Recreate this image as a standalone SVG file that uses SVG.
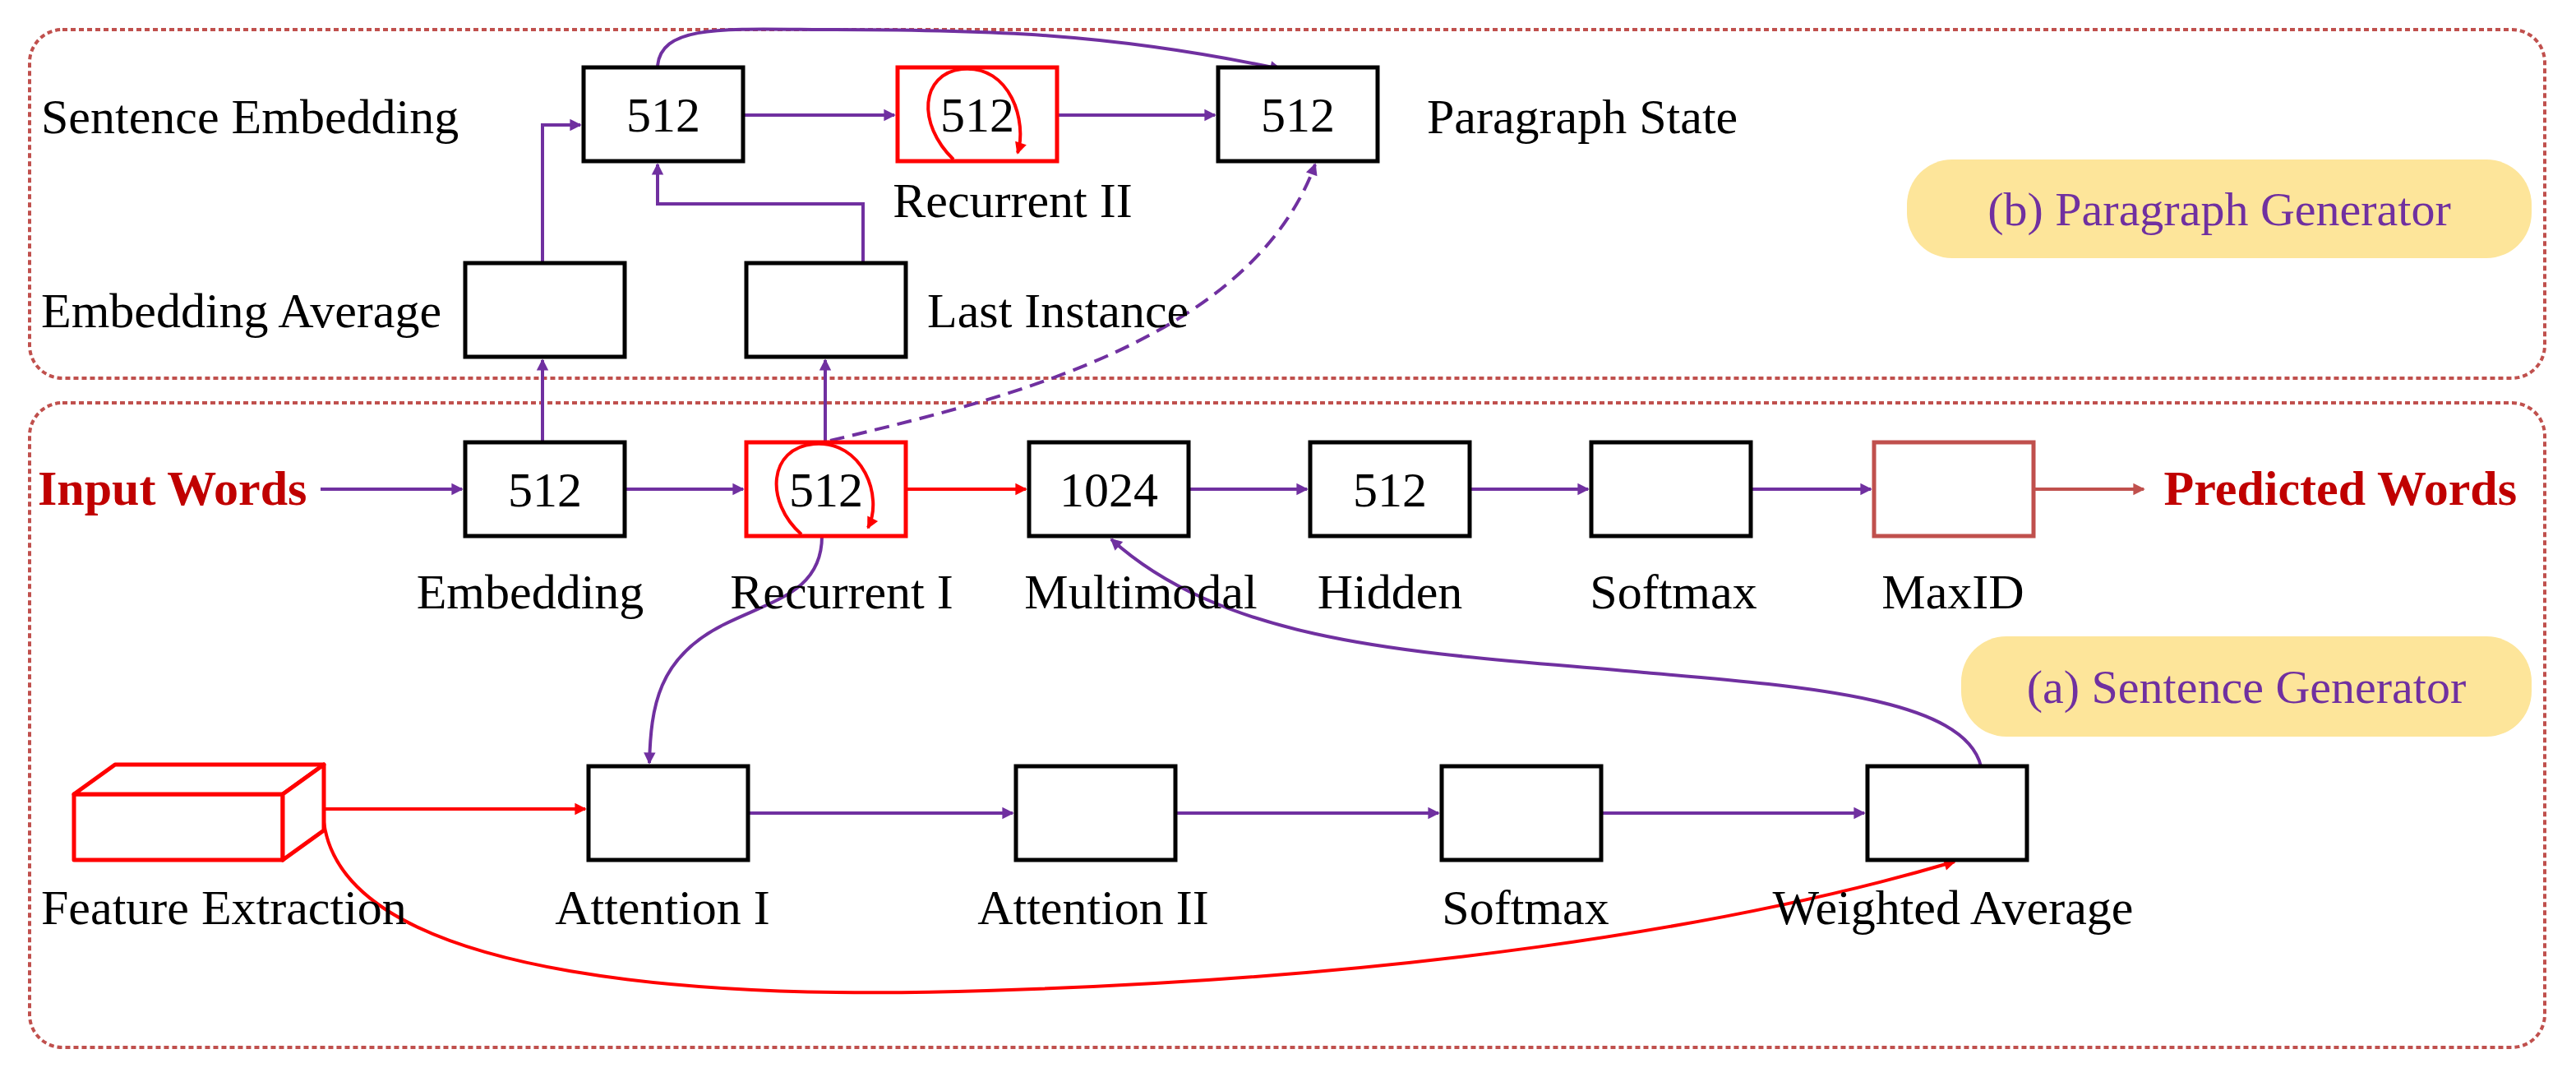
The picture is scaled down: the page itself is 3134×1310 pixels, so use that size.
<svg xmlns="http://www.w3.org/2000/svg" width="3134" height="1310" viewBox="0 0 3134 1310">
<style>
text{font-family:"Liberation Serif","Times New Roman",serif;font-size:60px;fill:#000}
.box{fill:#fff;stroke:#000;stroke-width:5}
.rbox{fill:#fff;stroke:#ff0000;stroke-width:5}
.c{fill:none;stroke:#7030a0;stroke-width:4}
.r{fill:none;stroke:#ff0000;stroke-width:4}
.panel{fill:none;stroke:#c0504d;stroke-width:4;stroke-dasharray:6 4}
.tag{fill:#fde59a}
.tagt{fill:#7030a0;font-size:58px}
.io{fill:#c00000;font-weight:bold}
</style>
<defs>
<marker id="ap" viewBox="0 0 10 10" refX="9" refY="5" markerWidth="6" markerHeight="6" orient="auto" markerUnits="userSpaceOnUse" style="overflow:visible"><path d="M0,0L10,5L0,10z" fill="#7030a0" transform="scale(2.4) translate(-5,-2.9)"/></marker>
<marker id="ar" viewBox="0 0 10 10" refX="9" refY="5" markerWidth="6" markerHeight="6" orient="auto" markerUnits="userSpaceOnUse" style="overflow:visible"><path d="M0,0L10,5L0,10z" fill="#ff0000" transform="scale(2.4) translate(-5,-2.9)"/></marker>
<marker id="ab" viewBox="0 0 10 10" refX="9" refY="5" markerWidth="6" markerHeight="6" orient="auto" markerUnits="userSpaceOnUse" style="overflow:visible"><path d="M0,0L10,5L0,10z" fill="#c0504d" transform="scale(2.4) translate(-5,-2.9)"/></marker>
</defs>
<rect class="panel" x="36" y="36" width="3060" height="424" rx="40"/>
<rect class="panel" x="36" y="490" width="3060" height="784" rx="40"/>
<g id="tagb"><rect class="tag" x="2320" y="194" width="760" height="120" rx="55"/><text class="tagt" x="2700" y="274" text-anchor="middle">(b) Paragraph Generator</text></g>
<g id="taga"><rect class="tag" x="2386" y="774" width="694" height="122" rx="55"/><text class="tagt" x="2733" y="855" text-anchor="middle">(a) Sentence Generator</text></g>

<g id="connectors">
<path class="c" d="M390,595H562" marker-end="url(#ap)"/>
<path class="c" d="M760,595H904" marker-end="url(#ap)"/>
<path class="r" d="M1102,595H1248" marker-end="url(#ar)"/>
<path class="c" d="M1446,595H1590" marker-end="url(#ap)"/>
<path class="c" d="M1788,595H1932" marker-end="url(#ap)"/>
<path class="c" d="M2130,595H2276" marker-end="url(#ap)"/>
<path fill="none" stroke="#c0504d" stroke-width="4" d="M2474,595H2608" marker-end="url(#ab)"/>
<path class="c" d="M660,538V438" marker-end="url(#ap)"/>
<path class="c" d="M660,320V152H706" marker-end="url(#ap)"/>
<path class="c" d="M1004,538V438" marker-end="url(#ap)"/>
<path class="c" d="M1050,320V248H800V200" marker-end="url(#ap)"/>
<path class="c" d="M904,140H1088" marker-end="url(#ap)"/>
<path class="c" d="M1286,140H1478" marker-end="url(#ap)"/>
<path class="c" d="M800,80C805,30 880,35 1000,36C1200,36 1350,40 1558,84" marker-end="url(#ap)"/>
<path class="c" stroke-dasharray="18 10" d="M1010,536C1200,490 1520,420 1600,200" marker-end="url(#ap)"/>
<path class="c" d="M1000,652C1000,720 940,730 880,760C800,800 792,860 790,928" marker-end="url(#ap)"/>
<path class="c" d="M2410,932C2390,850 2200,835 2000,818C1750,795 1500,790 1352,656" marker-end="url(#ap)"/>
<path class="r" d="M394,984H712" marker-end="url(#ar)"/>
<path class="c" d="M910,989H1232" marker-end="url(#ap)"/>
<path class="c" d="M1430,989H1750" marker-end="url(#ap)"/>
<path class="c" d="M1948,989H2268" marker-end="url(#ap)"/>
<path class="r" d="M394,1000C420,1200 900,1215 1200,1205C1700,1190 2100,1130 2378,1048" marker-end="url(#ar)"/>
</g>

<g id="se512"><rect class="box" x="710" y="82" width="194" height="114"/><text x="807" y="160" text-anchor="middle">512</text></g>
<g id="rec2"><rect class="rbox" x="1092" y="82" width="194" height="114"/><text x="1189" y="160" text-anchor="middle">512</text><path class="r" d="M1160,194C1115,150 1120,90 1170,84C1230,78 1250,150 1238,186" marker-end="url(#ar)"/></g>
<g id="ps512"><rect class="box" x="1482" y="82" width="194" height="114"/><text x="1579" y="160" text-anchor="middle">512</text></g>
<g id="embavg"><rect class="box" x="566" y="320" width="194" height="114"/></g>
<g id="lastinst"><rect class="box" x="908" y="320" width="194" height="114"/></g>
<g id="emb"><rect class="box" x="566" y="538" width="194" height="114"/><text x="663" y="616" text-anchor="middle">512</text></g>
<g id="rec1"><rect class="rbox" x="908" y="538" width="194" height="114"/><text x="1005" y="616" text-anchor="middle">512</text><path class="r" d="M975,650C930,610 935,545 990,540C1050,535 1075,605 1056,642" marker-end="url(#ar)"/></g>
<g id="mm"><rect class="box" x="1252" y="538" width="194" height="114"/><text x="1349" y="616" text-anchor="middle">1024</text></g>
<g id="hid"><rect class="box" x="1594" y="538" width="194" height="114"/><text x="1691" y="616" text-anchor="middle">512</text></g>
<g id="soft1"><rect class="box" x="1936" y="538" width="194" height="114"/></g>
<g id="maxid"><rect x="2280" y="538" width="194" height="114" fill="#fff" stroke="#c0504d" stroke-width="5"/></g>
<g id="att1"><rect class="box" x="716" y="932" width="194" height="114"/></g>
<g id="att2"><rect class="box" x="1236" y="932" width="194" height="114"/></g>
<g id="soft2"><rect class="box" x="1754" y="932" width="194" height="114"/></g>
<g id="wa"><rect class="box" x="2272" y="932" width="194" height="114"/></g>
<g id="feat" fill="#fff" stroke="#ff0000" stroke-width="5" stroke-linejoin="round"><rect x="90" y="966" width="254" height="80"/><path d="M90,966L140,930H394L344,966Z"/><path d="M344,966L394,930V1010L344,1046Z"/></g>

<g id="labels">
<text x="50" y="162">Sentence Embedding</text>
<text x="1736" y="162">Paragraph State</text>
<text x="1232" y="264" text-anchor="middle">Recurrent II</text>
<text x="50" y="398">Embedding Average</text>
<text x="1128" y="398">Last Instance</text>
<text class="io" x="46" y="614">Input Words</text>
<text class="io" x="3062" y="614" text-anchor="end">Predicted Words</text>
<text x="645" y="740" text-anchor="middle">Embedding</text>
<text x="1024" y="740" text-anchor="middle">Recurrent I</text>
<text x="1388" y="740" text-anchor="middle">Multimodal</text>
<text x="1691" y="740" text-anchor="middle">Hidden</text>
<text x="2036" y="740" text-anchor="middle">Softmax</text>
<text x="2376" y="740" text-anchor="middle">MaxID</text>
<text x="50" y="1124">Feature Extraction</text>
<text x="806" y="1124" text-anchor="middle">Attention I</text>
<text x="1330" y="1124" text-anchor="middle">Attention II</text>
<text x="1856" y="1124" text-anchor="middle">Softmax</text>
<text x="2376" y="1124" text-anchor="middle">Weighted Average</text>
</g>
</svg>
